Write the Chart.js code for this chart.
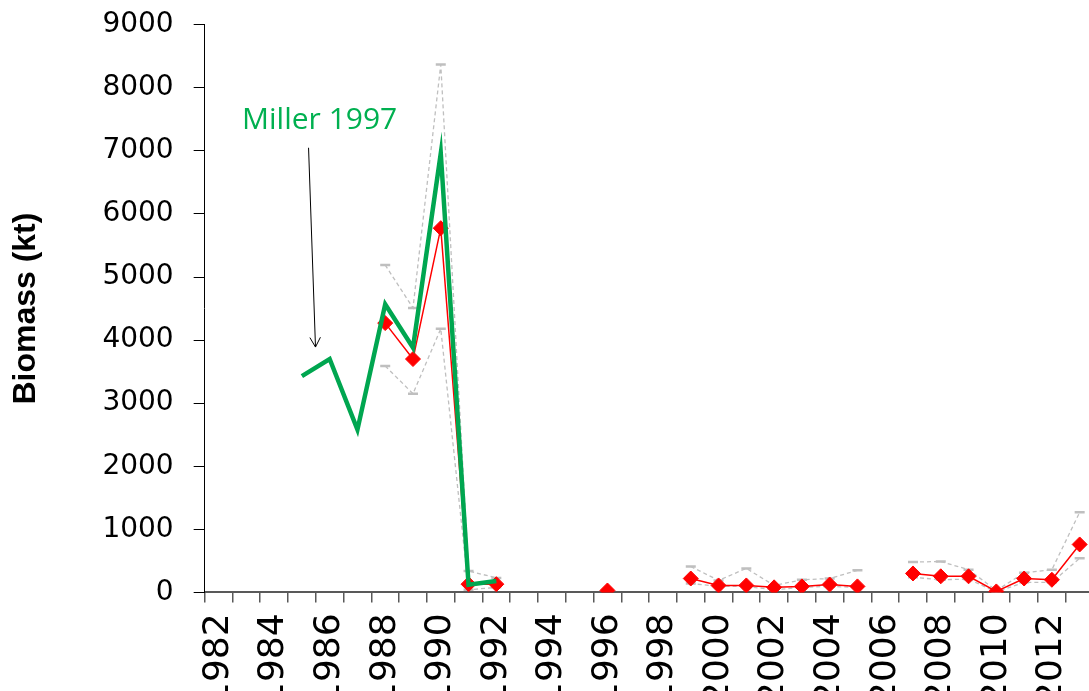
<!DOCTYPE html>
<html>
<head>
<meta charset="utf-8">
<script src="https://cdn.jsdelivr.net/npm/chart.js@4/dist/chart.umd.min.js"></script>
<style>
  html, body { margin: 0; padding: 0; overflow: hidden; background: #fff; }
  #wrap { position: absolute; left: 0; top: -12px; width: 1134px; height: 728px; }
</style>
</head>
<body>
<div id="wrap"><canvas id="biomass-chart"></canvas></div>
<script>
// Years 1982 - 2013
const years = [];
for (let y = 1982; y <= 2013; y++) years.push(String(y));

// Miller 1997 series (green)
const millerValues = [
  null, null, null, 3430, 3700, 2580, 4570, 3880, 6960, 120, 180,
  null, null, null, null, null, null, null, null, null, null, null,
  null, null, null, null, null, null, null, null, null, null
];

// Survey estimate (red diamonds)
const surveyValues = [
  null, null, null, null, null, null, 4270, 3700, 5775, 130, 130,
  null, null, null, 30, null, null, 220, 110, 110, 80, 95,
  125, 95, null, 300, 255, 255, 15, 220, 200, 760
];

// Confidence bounds (grey dashed)
const upperValues = [
  null, null, null, null, null, null, 5190, 4510, 8370, 340, 230,
  null, null, null, null, null, null, 410, 190, 380, 110, 200,
  220, 350, null, 480, 490, 360, 30, 310, 360, 1270
];
const lowerValues = [
  null, null, null, null, null, null, 3590, 3150, 4180, 40, 80,
  null, null, null, null, null, null, 140, 95, 95, 40, 80,
  95, 80, null, 240, 200, 210, 5, 160, 160, 540
];

// Annotation text and arrow, in axis units (category index, kt)
const noteText = "Miller 1997";
const notePos = [3.64, 7490];
const arrowFrom = [3.24, 7050];
const arrowTo = [3.49, 3890];

const annotationPlugin = {
  id: "millerNote",
  afterDatasetsDraw(chart) {
    const ctx = chart.ctx;
    const xs = chart.scales.x, ys = chart.scales.y;
    ctx.save();
    ctx.fillStyle = "#00b050";
    ctx.font = "30px 'Open Sans'";
    ctx.textAlign = "center";
    ctx.textBaseline = "middle";
    ctx.fillText(noteText, xs.getPixelForValue(notePos[0]), ys.getPixelForValue(notePos[1]));

    const x1 = xs.getPixelForValue(arrowFrom[0]), y1 = ys.getPixelForValue(arrowFrom[1]);
    const x2 = xs.getPixelForValue(arrowTo[0]), y2 = ys.getPixelForValue(arrowTo[1]);
    ctx.strokeStyle = "#000";
    ctx.lineWidth = 1;
    ctx.beginPath();
    ctx.moveTo(x1, y1);
    ctx.lineTo(x2, y2);
    const ang = Math.atan2(y2 - y1, x2 - x1);
    const head = 11;
    ctx.moveTo(x2 - head * Math.cos(ang - 0.5), y2 - head * Math.sin(ang - 0.5));
    ctx.lineTo(x2, y2);
    ctx.lineTo(x2 - head * Math.cos(ang + 0.5), y2 - head * Math.sin(ang + 0.5));
    ctx.stroke();
    ctx.restore();
  }
};

const ctx = document.getElementById("biomass-chart").getContext("2d");
const chart = new Chart(ctx, {
  type: "line",
  data: {
    labels: years,
    datasets: [
      {
        label: "Miller 1997",
        data: millerValues,
        borderColor: "#00a650",
        borderWidth: 4.5,
        pointRadius: 0,
        tension: 0,
        borderJoinStyle: "miter"
      },
      {
        label: "Estimate",
        data: surveyValues,
        borderColor: "#ff0000",
        backgroundColor: "#ff0000",
        borderWidth: 1.5,
        pointStyle: "rectRot",
        pointRadius: 7.5,
        pointBorderWidth: 1,
        pointBorderColor: "#ff0000",
        pointBackgroundColor: "#ff0000",
        tension: 0
      },
      {
        label: "Upper",
        data: upperValues,
        borderColor: "#bfbfbf",
        borderWidth: 1.3,
        borderDash: [4, 3],
        pointStyle: "line",
        pointRadius: 5,
        pointBorderWidth: 2.5,
        pointBorderColor: "#bfbfbf",
        tension: 0
      },
      {
        label: "Lower",
        data: lowerValues,
        borderColor: "#bfbfbf",
        borderWidth: 1.3,
        borderDash: [4, 3],
        pointStyle: "line",
        pointRadius: 5,
        pointBorderWidth: 2.5,
        pointBorderColor: "#bfbfbf",
        tension: 0
      }
    ]
  },
  options: {
    responsive: true,
    maintainAspectRatio: false,
    animation: false,
    spanGaps: false,
    layout: { padding: { top: 8, right: 5, bottom: 0, left: 0 } },
    plugins: {
      legend: { display: false },
      tooltip: { enabled: false }
    },
    scales: {
      x: {
        type: "category",
        offset: true,
        border: { display: true, color: "#595959", width: 2 },
        grid: {
          offset: true,
          drawOnChartArea: false,
          drawTicks: true,
          tickLength: 10,
          color: "#595959",
          lineWidth: 1.5
        },
        ticks: {
          autoSkip: false,
          maxRotation: 90,
          minRotation: 90,
          padding: 11,
          color: "#000",
          font: { family: "'DejaVu Sans'", size: 36 },
          callback: function(value, index) {
            const yr = this.getLabelForValue(value);
            return Number(yr) % 2 === 0 ? yr : "";
          }
        }
      },
      y: {
        min: 0,
        max: 9000,
        border: { display: true, color: "#000", width: 1 },
        grid: {
          drawOnChartArea: false,
          drawTicks: true,
          tickLength: 11,
          color: "#000",
          lineWidth: 1
        },
        ticks: {
          stepSize: 1000,
          padding: 20,
          color: "#000",
          font: { family: "'DejaVu Sans'", size: 28 },
          callback: (value) => String(value)
        },
        title: {
          display: true,
          text: "Biomass (kt)",
          color: "#000",
          font: { family: "'Liberation Sans'", size: 32, weight: "bold" },
          padding: { top: 7, bottom: 37 }
        }
      }
    }
  },
  plugins: [annotationPlugin]
});
</script>
</body>
</html>
